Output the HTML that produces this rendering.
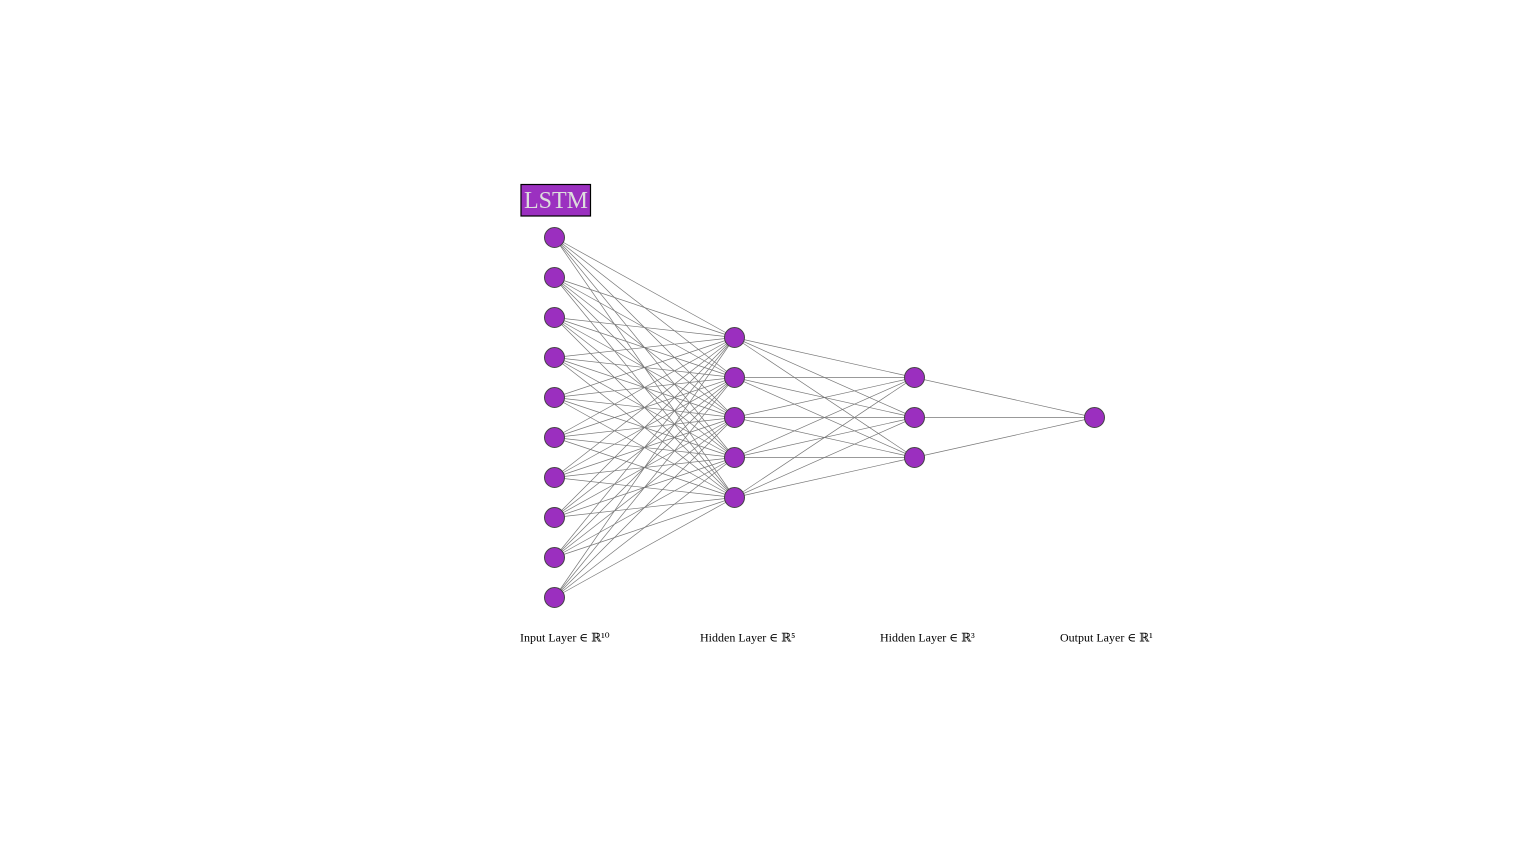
<!DOCTYPE html>
<html><head><meta charset="utf-8"><style>
html,body{margin:0;padding:0;background:#fff;width:1536px;height:855px;overflow:hidden}
svg{display:block}
text{font-family:"Liberation Serif","DejaVu Serif",serif}
</style></head><body>
<svg id="chart" width="1536" height="855" viewBox="0 0 1536 855">
<g id="edges"></g>
<g id="nodes"></g>
<g id="labels"></g>
<rect x="521" y="184.5" width="69.5" height="31.5" fill="#9b30c0" stroke="#000" stroke-width="1.2"/>
<text x="556" y="208" text-anchor="middle" font-size="24" fill="#ddd">LSTM</text>
</svg>
<script>
const layerSizes = [10, 5, 3, 1];
const layerNames = ["Input Layer ∈ ℝ¹⁰", "Hidden Layer ∈ ℝ⁵", "Hidden Layer ∈ ℝ³", "Output Layer ∈ ℝ¹"];
const x0 = 554.5, dx = 180, cy = 417.5, dy = 40, r = 10;
const ns = "http://www.w3.org/2000/svg";
function lx(i){return x0 + i*dx;}
function ny(n,j){return cy + (j - (n-1)/2)*dy;}
const E = document.getElementById('edges'), N = document.getElementById('nodes'), L = document.getElementById('labels');
for (let i=0;i<layerSizes.length-1;i++){
  for (let a=0;a<layerSizes[i];a++) for (let b=0;b<layerSizes[i+1];b++){
    const l=document.createElementNS(ns,'line');
    l.setAttribute('x1',lx(i));l.setAttribute('y1',ny(layerSizes[i],a));
    l.setAttribute('x2',lx(i+1));l.setAttribute('y2',ny(layerSizes[i+1],b));
    l.setAttribute('stroke','#777');l.setAttribute('stroke-width','0.7');
    
    
    E.appendChild(l);
  }
}
layerSizes.forEach((n,i)=>{
  for(let j=0;j<n;j++){
    const c=document.createElementNS(ns,'circle');
    c.setAttribute('cx',lx(i));c.setAttribute('cy',ny(n,j));c.setAttribute('r',r);
    c.setAttribute('fill','#9b2fbf');c.setAttribute('stroke','#444');c.setAttribute('stroke-width','1');
    
    
    N.appendChild(c);
  }
  const t=document.createElementNS(ns,'text');
  t.setAttribute('x',lx(i)-34.5);t.setAttribute('y',641.5);t.setAttribute('font-size','12');t.setAttribute('fill','#000');
  t.textContent=layerNames[i];
  
  
  L.appendChild(t);
});
</script>
</body></html>
